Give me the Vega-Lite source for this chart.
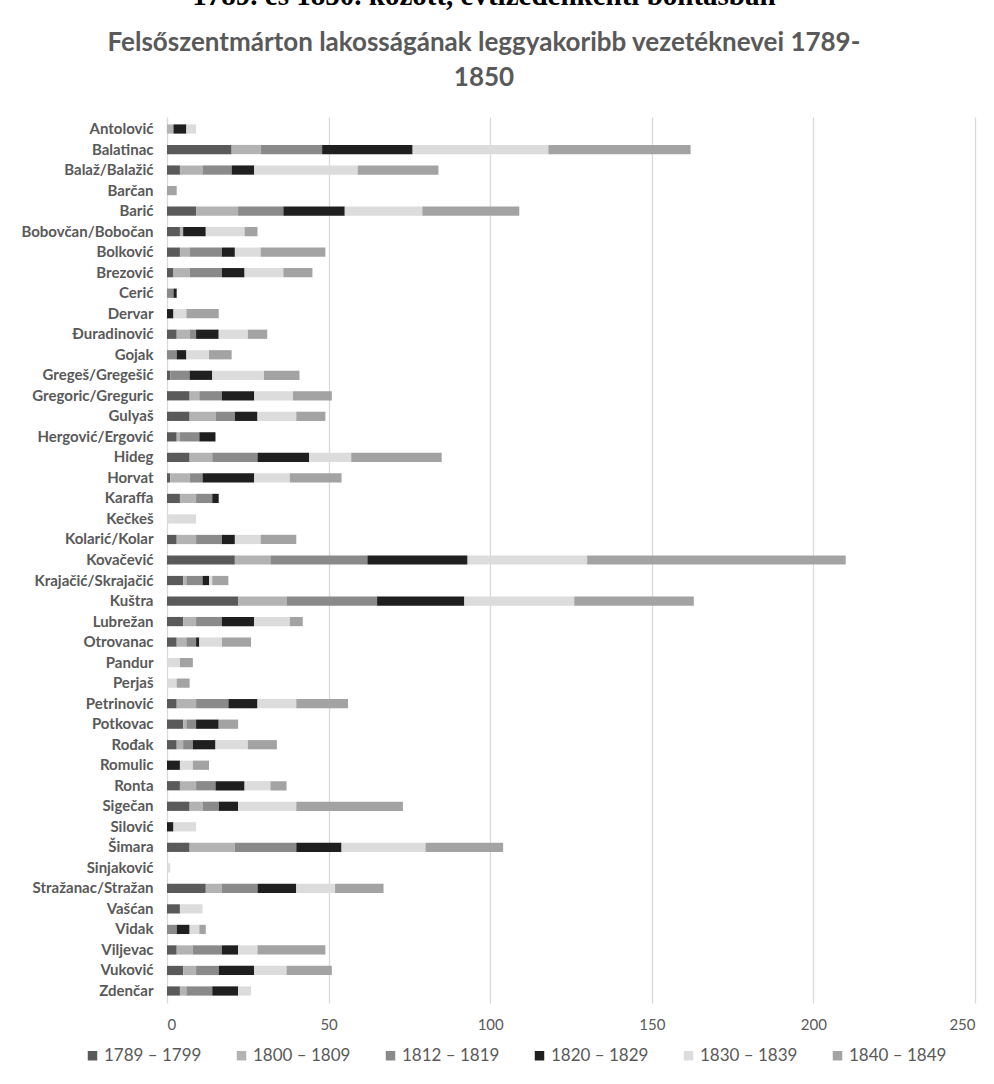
{
  "$schema": "https://vega.github.io/schema/vega-lite/v6.json",
  "width": 808,
  "height": 886,
  "autosize": {"type": "none"},
  "padding": {"left": 167, "top": 117, "right": 19, "bottom": 81},
  "background": "white",
  "title": {
    "text": "\u00a0\u00a0\u00a0\u00a0\u00a0\u00a0\u00a01789. és 1850. között, évtizedenkénti bontásban",
    "subtitle": ["Felsőszentmárton lakosságának leggyakoribb vezetéknevei  1789-", "1850"],
    "anchor": "middle",
    "frame": "bounds",
    "font": "Liberation Serif",
    "fontSize": 29,
    "fontWeight": "bold",
    "color": "#000000",
    "subtitleFont": "Lato",
    "subtitleFontSize": 26,
    "subtitleFontWeight": "bold",
    "subtitleColor": "#595959",
    "subtitleLineHeight": 35,
    "subtitlePadding": 19,
    "offset": 26,
    "dx": -14
  },
  "data": {
    "values": [
      {"n": "Antolović", "p": "1800 – 1809", "v": 2}, {"n": "Antolović", "p": "1820 – 1829", "v": 4}, {"n": "Antolović", "p": "1830 – 1839", "v": 3},
      {"n": "Balatinac", "p": "1789 – 1799", "v": 20}, {"n": "Balatinac", "p": "1800 – 1809", "v": 9}, {"n": "Balatinac", "p": "1812 – 1819", "v": 19}, {"n": "Balatinac", "p": "1820 – 1829", "v": 28}, {"n": "Balatinac", "p": "1830 – 1839", "v": 42}, {"n": "Balatinac", "p": "1840 – 1849", "v": 44},
      {"n": "Balaž/Balažić", "p": "1789 – 1799", "v": 4}, {"n": "Balaž/Balažić", "p": "1800 – 1809", "v": 7}, {"n": "Balaž/Balažić", "p": "1812 – 1819", "v": 9}, {"n": "Balaž/Balažić", "p": "1820 – 1829", "v": 7}, {"n": "Balaž/Balažić", "p": "1830 – 1839", "v": 32}, {"n": "Balaž/Balažić", "p": "1840 – 1849", "v": 25},
      {"n": "Barčan", "p": "1840 – 1849", "v": 3},
      {"n": "Barić", "p": "1789 – 1799", "v": 9}, {"n": "Barić", "p": "1800 – 1809", "v": 13}, {"n": "Barić", "p": "1812 – 1819", "v": 14}, {"n": "Barić", "p": "1820 – 1829", "v": 19}, {"n": "Barić", "p": "1830 – 1839", "v": 24}, {"n": "Barić", "p": "1840 – 1849", "v": 30},
      {"n": "Bobovčan/Bobočan", "p": "1789 – 1799", "v": 4}, {"n": "Bobovčan/Bobočan", "p": "1800 – 1809", "v": 1}, {"n": "Bobovčan/Bobočan", "p": "1820 – 1829", "v": 7}, {"n": "Bobovčan/Bobočan", "p": "1830 – 1839", "v": 12}, {"n": "Bobovčan/Bobočan", "p": "1840 – 1849", "v": 4},
      {"n": "Bolković", "p": "1789 – 1799", "v": 4}, {"n": "Bolković", "p": "1800 – 1809", "v": 3}, {"n": "Bolković", "p": "1812 – 1819", "v": 10}, {"n": "Bolković", "p": "1820 – 1829", "v": 4}, {"n": "Bolković", "p": "1830 – 1839", "v": 8}, {"n": "Bolković", "p": "1840 – 1849", "v": 20},
      {"n": "Brezović", "p": "1789 – 1799", "v": 2}, {"n": "Brezović", "p": "1800 – 1809", "v": 5}, {"n": "Brezović", "p": "1812 – 1819", "v": 10}, {"n": "Brezović", "p": "1820 – 1829", "v": 7}, {"n": "Brezović", "p": "1830 – 1839", "v": 12}, {"n": "Brezović", "p": "1840 – 1849", "v": 9},
      {"n": "Cerić", "p": "1812 – 1819", "v": 2}, {"n": "Cerić", "p": "1820 – 1829", "v": 1},
      {"n": "Dervar", "p": "1820 – 1829", "v": 2}, {"n": "Dervar", "p": "1830 – 1839", "v": 4}, {"n": "Dervar", "p": "1840 – 1849", "v": 10},
      {"n": "Đuradinović", "p": "1789 – 1799", "v": 3}, {"n": "Đuradinović", "p": "1800 – 1809", "v": 4}, {"n": "Đuradinović", "p": "1812 – 1819", "v": 2}, {"n": "Đuradinović", "p": "1820 – 1829", "v": 7}, {"n": "Đuradinović", "p": "1830 – 1839", "v": 9}, {"n": "Đuradinović", "p": "1840 – 1849", "v": 6},
      {"n": "Gojak", "p": "1812 – 1819", "v": 3}, {"n": "Gojak", "p": "1820 – 1829", "v": 3}, {"n": "Gojak", "p": "1830 – 1839", "v": 7}, {"n": "Gojak", "p": "1840 – 1849", "v": 7},
      {"n": "Gregeš/Gregešić", "p": "1789 – 1799", "v": 1}, {"n": "Gregeš/Gregešić", "p": "1812 – 1819", "v": 6}, {"n": "Gregeš/Gregešić", "p": "1820 – 1829", "v": 7}, {"n": "Gregeš/Gregešić", "p": "1830 – 1839", "v": 16}, {"n": "Gregeš/Gregešić", "p": "1840 – 1849", "v": 11},
      {"n": "Gregoric/Greguric", "p": "1789 – 1799", "v": 7}, {"n": "Gregoric/Greguric", "p": "1800 – 1809", "v": 3}, {"n": "Gregoric/Greguric", "p": "1812 – 1819", "v": 7}, {"n": "Gregoric/Greguric", "p": "1820 – 1829", "v": 10}, {"n": "Gregoric/Greguric", "p": "1830 – 1839", "v": 12}, {"n": "Gregoric/Greguric", "p": "1840 – 1849", "v": 12},
      {"n": "Gulyaš", "p": "1789 – 1799", "v": 7}, {"n": "Gulyaš", "p": "1800 – 1809", "v": 8}, {"n": "Gulyaš", "p": "1812 – 1819", "v": 6}, {"n": "Gulyaš", "p": "1820 – 1829", "v": 7}, {"n": "Gulyaš", "p": "1830 – 1839", "v": 12}, {"n": "Gulyaš", "p": "1840 – 1849", "v": 9},
      {"n": "Hergović/Ergović", "p": "1789 – 1799", "v": 3}, {"n": "Hergović/Ergović", "p": "1800 – 1809", "v": 1}, {"n": "Hergović/Ergović", "p": "1812 – 1819", "v": 6}, {"n": "Hergović/Ergović", "p": "1820 – 1829", "v": 5},
      {"n": "Hideg", "p": "1789 – 1799", "v": 7}, {"n": "Hideg", "p": "1800 – 1809", "v": 7}, {"n": "Hideg", "p": "1812 – 1819", "v": 14}, {"n": "Hideg", "p": "1820 – 1829", "v": 16}, {"n": "Hideg", "p": "1830 – 1839", "v": 13}, {"n": "Hideg", "p": "1840 – 1849", "v": 28},
      {"n": "Horvat", "p": "1789 – 1799", "v": 1}, {"n": "Horvat", "p": "1800 – 1809", "v": 6}, {"n": "Horvat", "p": "1812 – 1819", "v": 4}, {"n": "Horvat", "p": "1820 – 1829", "v": 16}, {"n": "Horvat", "p": "1830 – 1839", "v": 11}, {"n": "Horvat", "p": "1840 – 1849", "v": 16},
      {"n": "Karaffa", "p": "1789 – 1799", "v": 4}, {"n": "Karaffa", "p": "1800 – 1809", "v": 5}, {"n": "Karaffa", "p": "1812 – 1819", "v": 5}, {"n": "Karaffa", "p": "1820 – 1829", "v": 2},
      {"n": "Kečkeš", "p": "1830 – 1839", "v": 9},
      {"n": "Kolarić/Kolar", "p": "1789 – 1799", "v": 3}, {"n": "Kolarić/Kolar", "p": "1800 – 1809", "v": 6}, {"n": "Kolarić/Kolar", "p": "1812 – 1819", "v": 8}, {"n": "Kolarić/Kolar", "p": "1820 – 1829", "v": 4}, {"n": "Kolarić/Kolar", "p": "1830 – 1839", "v": 8}, {"n": "Kolarić/Kolar", "p": "1840 – 1849", "v": 11},
      {"n": "Kovačević", "p": "1789 – 1799", "v": 21}, {"n": "Kovačević", "p": "1800 – 1809", "v": 11}, {"n": "Kovačević", "p": "1812 – 1819", "v": 30}, {"n": "Kovačević", "p": "1820 – 1829", "v": 31}, {"n": "Kovačević", "p": "1830 – 1839", "v": 37}, {"n": "Kovačević", "p": "1840 – 1849", "v": 80},
      {"n": "Krajačić/Skrajačić", "p": "1789 – 1799", "v": 5}, {"n": "Krajačić/Skrajačić", "p": "1800 – 1809", "v": 1}, {"n": "Krajačić/Skrajačić", "p": "1812 – 1819", "v": 5}, {"n": "Krajačić/Skrajačić", "p": "1820 – 1829", "v": 2}, {"n": "Krajačić/Skrajačić", "p": "1830 – 1839", "v": 1}, {"n": "Krajačić/Skrajačić", "p": "1840 – 1849", "v": 5},
      {"n": "Kuštra", "p": "1789 – 1799", "v": 22}, {"n": "Kuštra", "p": "1800 – 1809", "v": 15}, {"n": "Kuštra", "p": "1812 – 1819", "v": 28}, {"n": "Kuštra", "p": "1820 – 1829", "v": 27}, {"n": "Kuštra", "p": "1830 – 1839", "v": 34}, {"n": "Kuštra", "p": "1840 – 1849", "v": 37},
      {"n": "Lubrežan", "p": "1789 – 1799", "v": 5}, {"n": "Lubrežan", "p": "1800 – 1809", "v": 4}, {"n": "Lubrežan", "p": "1812 – 1819", "v": 8}, {"n": "Lubrežan", "p": "1820 – 1829", "v": 10}, {"n": "Lubrežan", "p": "1830 – 1839", "v": 11}, {"n": "Lubrežan", "p": "1840 – 1849", "v": 4},
      {"n": "Otrovanac", "p": "1789 – 1799", "v": 3}, {"n": "Otrovanac", "p": "1800 – 1809", "v": 3}, {"n": "Otrovanac", "p": "1812 – 1819", "v": 3}, {"n": "Otrovanac", "p": "1820 – 1829", "v": 1}, {"n": "Otrovanac", "p": "1830 – 1839", "v": 7}, {"n": "Otrovanac", "p": "1840 – 1849", "v": 9},
      {"n": "Pandur", "p": "1830 – 1839", "v": 4}, {"n": "Pandur", "p": "1840 – 1849", "v": 4},
      {"n": "Perjaš", "p": "1830 – 1839", "v": 3}, {"n": "Perjaš", "p": "1840 – 1849", "v": 4},
      {"n": "Petrinović", "p": "1789 – 1799", "v": 3}, {"n": "Petrinović", "p": "1800 – 1809", "v": 6}, {"n": "Petrinović", "p": "1812 – 1819", "v": 10}, {"n": "Petrinović", "p": "1820 – 1829", "v": 9}, {"n": "Petrinović", "p": "1830 – 1839", "v": 12}, {"n": "Petrinović", "p": "1840 – 1849", "v": 16},
      {"n": "Potkovac", "p": "1789 – 1799", "v": 5}, {"n": "Potkovac", "p": "1800 – 1809", "v": 1}, {"n": "Potkovac", "p": "1812 – 1819", "v": 3}, {"n": "Potkovac", "p": "1820 – 1829", "v": 7}, {"n": "Potkovac", "p": "1840 – 1849", "v": 6},
      {"n": "Rođak", "p": "1789 – 1799", "v": 3}, {"n": "Rođak", "p": "1800 – 1809", "v": 2}, {"n": "Rođak", "p": "1812 – 1819", "v": 3}, {"n": "Rođak", "p": "1820 – 1829", "v": 7}, {"n": "Rođak", "p": "1830 – 1839", "v": 10}, {"n": "Rođak", "p": "1840 – 1849", "v": 9},
      {"n": "Romulic", "p": "1820 – 1829", "v": 4}, {"n": "Romulic", "p": "1830 – 1839", "v": 4}, {"n": "Romulic", "p": "1840 – 1849", "v": 5},
      {"n": "Ronta", "p": "1789 – 1799", "v": 4}, {"n": "Ronta", "p": "1800 – 1809", "v": 5}, {"n": "Ronta", "p": "1812 – 1819", "v": 6}, {"n": "Ronta", "p": "1820 – 1829", "v": 9}, {"n": "Ronta", "p": "1830 – 1839", "v": 8}, {"n": "Ronta", "p": "1840 – 1849", "v": 5},
      {"n": "Sigečan", "p": "1789 – 1799", "v": 7}, {"n": "Sigečan", "p": "1800 – 1809", "v": 4}, {"n": "Sigečan", "p": "1812 – 1819", "v": 5}, {"n": "Sigečan", "p": "1820 – 1829", "v": 6}, {"n": "Sigečan", "p": "1830 – 1839", "v": 18}, {"n": "Sigečan", "p": "1840 – 1849", "v": 33},
      {"n": "Silović", "p": "1820 – 1829", "v": 2}, {"n": "Silović", "p": "1830 – 1839", "v": 7},
      {"n": "Šimara", "p": "1789 – 1799", "v": 7}, {"n": "Šimara", "p": "1800 – 1809", "v": 14}, {"n": "Šimara", "p": "1812 – 1819", "v": 19}, {"n": "Šimara", "p": "1820 – 1829", "v": 14}, {"n": "Šimara", "p": "1830 – 1839", "v": 26}, {"n": "Šimara", "p": "1840 – 1849", "v": 24},
      {"n": "Sinjaković", "p": "1830 – 1839", "v": 1},
      {"n": "Stražanac/Stražan", "p": "1789 – 1799", "v": 12}, {"n": "Stražanac/Stražan", "p": "1800 – 1809", "v": 5}, {"n": "Stražanac/Stražan", "p": "1812 – 1819", "v": 11}, {"n": "Stražanac/Stražan", "p": "1820 – 1829", "v": 12}, {"n": "Stražanac/Stražan", "p": "1830 – 1839", "v": 12}, {"n": "Stražanac/Stražan", "p": "1840 – 1849", "v": 15},
      {"n": "Vašćan", "p": "1789 – 1799", "v": 4}, {"n": "Vašćan", "p": "1830 – 1839", "v": 7},
      {"n": "Vidak", "p": "1812 – 1819", "v": 3}, {"n": "Vidak", "p": "1820 – 1829", "v": 4}, {"n": "Vidak", "p": "1830 – 1839", "v": 3}, {"n": "Vidak", "p": "1840 – 1849", "v": 2},
      {"n": "Viljevac", "p": "1789 – 1799", "v": 3}, {"n": "Viljevac", "p": "1800 – 1809", "v": 5}, {"n": "Viljevac", "p": "1812 – 1819", "v": 9}, {"n": "Viljevac", "p": "1820 – 1829", "v": 5}, {"n": "Viljevac", "p": "1830 – 1839", "v": 6}, {"n": "Viljevac", "p": "1840 – 1849", "v": 21},
      {"n": "Vuković", "p": "1789 – 1799", "v": 5}, {"n": "Vuković", "p": "1800 – 1809", "v": 4}, {"n": "Vuković", "p": "1812 – 1819", "v": 7}, {"n": "Vuković", "p": "1820 – 1829", "v": 11}, {"n": "Vuković", "p": "1830 – 1839", "v": 10}, {"n": "Vuković", "p": "1840 – 1849", "v": 14},
      {"n": "Zdenčar", "p": "1789 – 1799", "v": 4}, {"n": "Zdenčar", "p": "1800 – 1809", "v": 2}, {"n": "Zdenčar", "p": "1812 – 1819", "v": 8}, {"n": "Zdenčar", "p": "1820 – 1829", "v": 8}, {"n": "Zdenčar", "p": "1830 – 1839", "v": 4}
    ]
  },
  "mark": {"type": "bar"},
  "encoding": {
    "y": {
      "field": "n",
      "type": "nominal",
      "sort": ["Antolović", "Balatinac", "Balaž/Balažić", "Barčan", "Barić", "Bobovčan/Bobočan", "Bolković", "Brezović", "Cerić", "Dervar", "Đuradinović", "Gojak", "Gregeš/Gregešić", "Gregoric/Greguric", "Gulyaš", "Hergović/Ergović", "Hideg", "Horvat", "Karaffa", "Kečkeš", "Kolarić/Kolar", "Kovačević", "Krajačić/Skrajačić", "Kuštra", "Lubrežan", "Otrovanac", "Pandur", "Perjaš", "Petrinović", "Potkovac", "Rođak", "Romulic", "Ronta", "Sigečan", "Silović", "Šimara", "Sinjaković", "Stražanac/Stražan", "Vašćan", "Vidak", "Viljevac", "Vuković", "Zdenčar"],
      "scale": {"paddingInner": 0.55, "paddingOuter": 0.36},
      "axis": {
        "title": null,
        "domain": false,
        "ticks": false,
        "labelFont": "Lato",
        "labelFontSize": 15,
        "labelFontWeight": "bold",
        "labelColor": "#595959",
        "labelPadding": 14
      }
    },
    "x": {
      "field": "v",
      "type": "quantitative",
      "stack": "zero",
      "scale": {"domain": [0, 250], "nice": false},
      "axis": {
        "title": null,
        "values": [0, 50, 100, 150, 200, 250],
        "domain": false,
        "ticks": false,
        "grid": true,
        "gridColor": "#d9d9d9",
        "gridWidth": 1.3,
        "labelFont": "Lato",
        "labelFontSize": 15,
        "labelColor": "#595959",
        "labelPadding": 14
      }
    },
    "color": {
      "field": "p",
      "type": "nominal",
      "scale": {
        "domain": ["1789 – 1799", "1800 – 1809", "1812 – 1819", "1820 – 1829", "1830 – 1839", "1840 – 1849"],
        "range": ["#5a5a5a", "#b3b3b3", "#8a8a8a", "#1f1f1f", "#dcdcdc", "#a3a3a3"]
      },
      "legend": {
        "title": null,
        "orient": "none",
        "legendX": -83,
        "legendY": 930,
        "direction": "horizontal",
        "symbolType": "square",
        "symbolSize": 90,
        "symbolStrokeWidth": 0,
        "labelFont": "Lato",
        "labelFontSize": 17,
        "labelColor": "#595959",
        "labelOffset": 3,
        "columnPadding": 31
      }
    },
    "order": {"field": "p", "type": "ordinal"}
  },
  "config": {
    "view": {"stroke": null}
  }
}
